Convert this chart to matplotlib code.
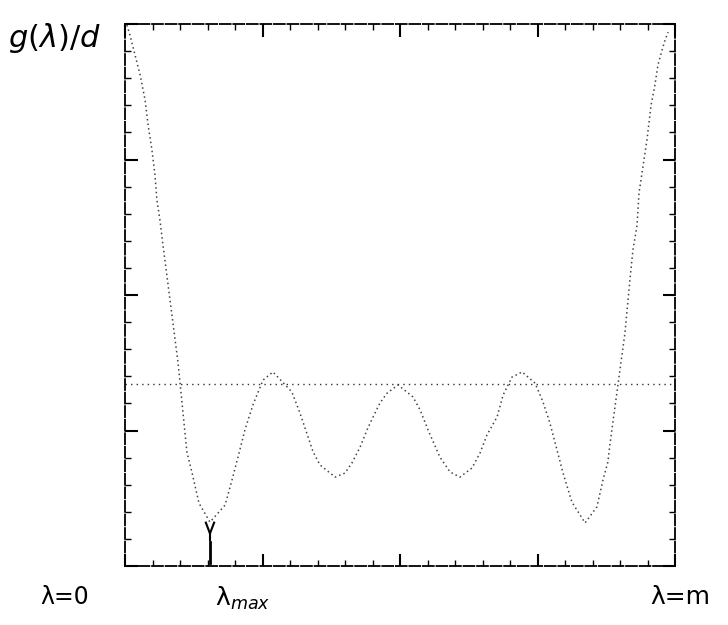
import matplotlib
matplotlib.use("Agg")
import matplotlib.pyplot as plt
from matplotlib.ticker import MultipleLocator

# curve g(lambda)/d (x and y in axis units, 0..20)
lam = [0.07, 0.18, 0.55, 0.73, 0.84, 0.98, 1.09, 1.16, 1.27, 1.38, 1.93,
       2.25, 2.44, 2.69, 3.09, 3.64, 3.89, 4.11, 4.36, 4.65, 5.02, 5.38,
       6.07, 6.36, 6.84, 7.09, 7.64, 8.00, 8.25, 8.55, 8.80, 9.02, 9.27,
       9.53, 9.93, 10.47, 10.73, 11.02, 11.45, 11.82, 12.18, 12.62, 12.91,
       13.16, 13.53, 13.75, 14.07, 14.44, 14.91, 15.20, 15.45, 15.71, 15.93,
       16.25, 16.73, 17.16, 17.38, 17.56, 17.64, 18.18, 18.36, 18.47, 18.62,
       18.69, 18.98, 19.13, 19.27, 19.38, 19.53, 19.64, 19.75]
g = [19.96, 19.59, 18.12, 17.20, 16.27, 15.35, 14.43, 13.51, 12.77, 11.85, 7.49,
     4.21, 3.43, 2.32, 1.62, 2.25, 3.17, 4.02, 5.02, 5.94, 6.86, 7.16,
     6.42, 5.65, 4.21, 3.73, 3.28, 3.43, 3.80, 4.39, 5.02, 5.50, 6.01,
     6.38, 6.68, 6.24, 5.76, 5.02, 4.02, 3.47, 3.28, 3.62, 4.17,
     4.83, 5.50, 6.31, 6.97, 7.16, 6.75, 6.05, 5.28, 4.28, 3.43,
     2.36, 1.59, 2.18, 3.17, 3.84, 4.54, 8.60, 10.55, 11.66, 12.58,
     13.76, 15.72, 17.01, 17.75, 18.49, 19.04, 19.41, 19.70]

level = 6.72        # dotted horizontal reference line
lam_max = 3.09      # position of the first minimum

fig = plt.figure(figsize=(7.28, 6.25), dpi=100)
ax = fig.add_axes([125 / 728, 59 / 625, 550 / 728, 542 / 625])

ax.plot(lam, g, color="#444444", lw=1.1, linestyle=(0, (1, 2)))
ax.axhline(level, color="#333333", lw=1.0, linestyle=(0, (1, 3)))

# lambda_max marker: short stroke up from the axis with a small fork
ax.plot([lam_max, lam_max], [0.1, 0.9], color="black", lw=2)
ax.plot([lam_max - 0.15, lam_max, lam_max + 0.15], [1.6, 1.2, 1.6],
        color="black", lw=1.5)
ax.plot([lam_max, lam_max], [1.2, 0.95], color="black", lw=1.5)

ax.set_xlim(0, 20)
ax.set_ylim(0, 20)
for s in ax.spines.values():
    s.set_linestyle((0, (6, 1.5)))
    s.set_linewidth(1.3)

ax.xaxis.set_major_locator(MultipleLocator(5))
ax.xaxis.set_minor_locator(MultipleLocator(1))
ax.yaxis.set_major_locator(MultipleLocator(5))
ax.yaxis.set_minor_locator(MultipleLocator(1))
ax.tick_params(which="both", direction="in", top=True, right=True,
               labelbottom=False, labelleft=False)
ax.tick_params(which="major", length=9, width=1.5)
ax.tick_params(which="minor", length=4, width=1)

# hand-written style labels under the axis
ax.text(-1.3, -1.15, "λ=0", ha="right", va="center", fontsize=17)
ax.text(lam_max + 0.2, -1.2, "λ$_{max}$", ha="left", va="center", fontsize=18)
ax.text(19.1, -1.15, "λ=m", ha="left", va="center", fontsize=18)

fig.text(8 / 728, 1 - 38 / 625, "$g(\\lambda)/d$", fontsize=22, va="center")

fig.savefig("out.png", dpi=100)
